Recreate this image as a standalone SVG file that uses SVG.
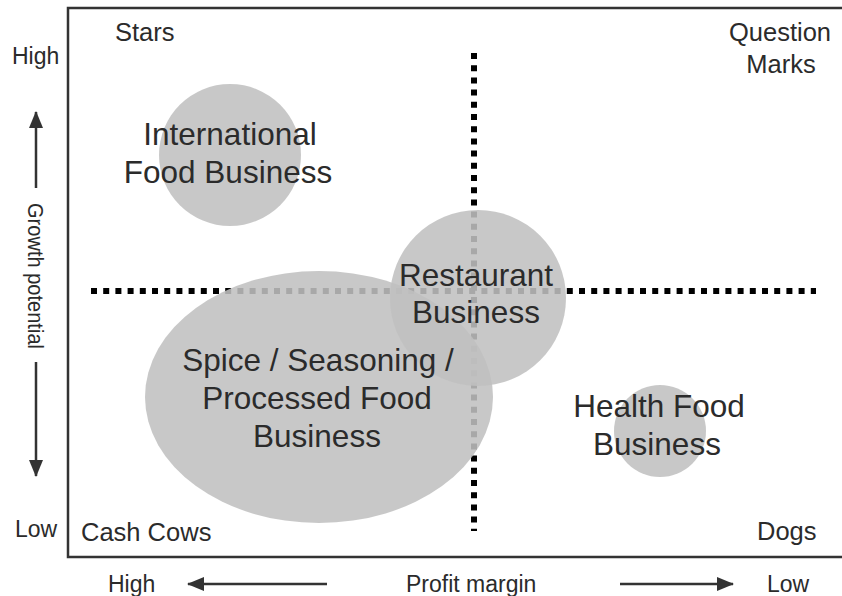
<svg xmlns="http://www.w3.org/2000/svg" width="842" height="596" viewBox="0 0 842 596">
<style>
text{font-family:"Liberation Sans",Arial,sans-serif;fill:#2b2b2b}
.q{font-size:25.5px}
.ax{font-size:23px}
.b{font-size:31.5px;text-anchor:middle}
.bub{fill:#c0c0c0;fill-opacity:0.875}
.div{stroke:#000;stroke-width:6;stroke-dasharray:6 6.2;fill:none}
.arr{stroke:#333;stroke-width:2.5;fill:none;marker-end:url(#ah)}
</style>
<defs>
<marker id="ah" markerWidth="17" markerHeight="14" viewBox="0 0 17 14" refX="16" refY="7" orient="auto" markerUnits="userSpaceOnUse">
<path d="M0,0 L17,7 L0,14 Z" fill="#333"/>
</marker>
</defs>
<rect width="842" height="596" fill="#fff"/>
<g id="frame">
<path d="M842,8 H68 V557 H842" fill="none" stroke="#333" stroke-width="2.5"/>
</g>
<g id="connectors">
<line class="div" x1="91" y1="291" x2="816" y2="291"/>
<line class="div" x1="474" y1="53" x2="474" y2="531"/>
<line class="arr" x1="36" y1="188" x2="36" y2="112"/>
<line class="arr" x1="36" y1="362" x2="36" y2="476"/>
<line class="arr" x1="327" y1="584" x2="188" y2="584"/>
<line class="arr" x1="620" y1="584" x2="733" y2="584"/>
</g>
<g id="international">
<circle class="bub" cx="230" cy="155" r="71"/>
</g>
<g id="spice">
<ellipse class="bub" cx="319" cy="397" rx="174" ry="126"/>
</g>
<g id="restaurant">
<circle class="bub" cx="478" cy="298" r="88"/>
</g>
<g id="health">
<circle class="bub" cx="660" cy="431" r="46"/>
</g>
<g id="bubble-labels">
<text id="international-label" class="b"><tspan x="230" y="145">International</tspan><tspan x="228" y="183">Food Business</tspan></text>
<text id="spice-label" class="b"><tspan x="318" y="371">Spice / Seasoning /</tspan><tspan x="317" y="409">Processed Food</tspan><tspan x="317" y="447">Business</tspan></text>
<text id="restaurant-label" class="b"><tspan x="476" y="286">Restaurant</tspan><tspan x="476" y="323">Business</tspan></text>
<text id="health-label" class="b"><tspan x="659" y="417">Health Food</tspan><tspan x="657" y="455">Business</tspan></text>
</g>
<g id="quadrant-labels">
<text class="q" x="115" y="41">Stars</text>
<text class="q" text-anchor="middle"><tspan x="780" y="41">Question</tspan><tspan x="781" y="73">Marks</tspan></text>
<text class="q" x="81" y="541">Cash Cows</text>
<text class="q" x="757" y="540">Dogs</text>
</g>
<g id="axis-labels">
<text class="ax" x="12" y="64">High</text>
<text class="ax" x="15" y="537">Low</text>
<text class="ax" transform="translate(36,276) rotate(90)" x="-73" y="8" textLength="146" lengthAdjust="spacingAndGlyphs" style="font-size:22px">Growth potential</text>
<text class="ax" x="108" y="592">High</text>
<text class="ax" x="406" y="592">Profit margin</text>
<text class="ax" x="767" y="592">Low</text>
</g>
</svg>
